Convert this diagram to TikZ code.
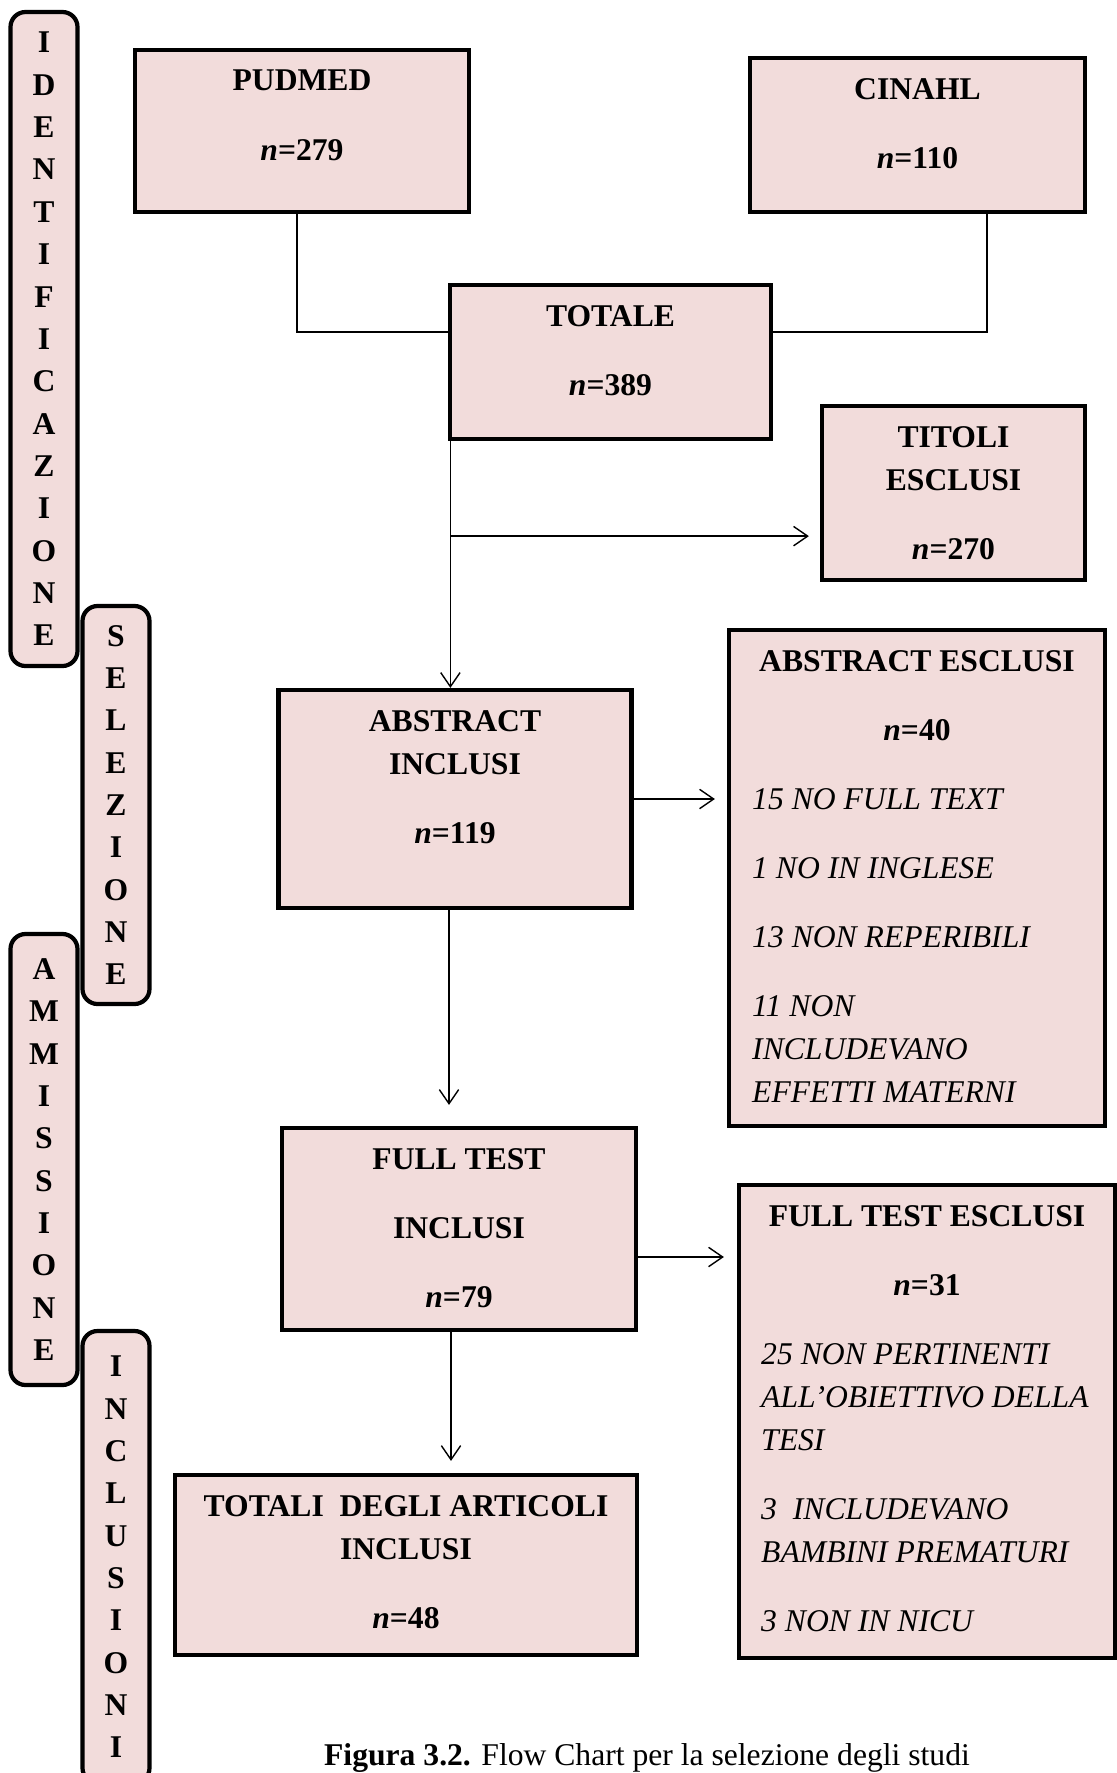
\documentclass[tikz,border=0pt]{standalone}
\usepackage{fontspec}
\setmainfont{Liberation Serif}
\usetikzlibrary{arrows.meta, positioning}
\definecolor{boxpink}{RGB}{242,220,219}

\begin{document}
\begin{tikzpicture}[
        box/.style={draw, rectangle, line width=2.4pt, fill=boxpink, inner sep=0pt},
        tab/.style={draw, rectangle, rounded corners=0.3cm, line width=2.4pt, fill=boxpink, align=center, inner sep=0pt, minimum width=1.34cm, font=\fontsize{18}{24.1}\selectfont\bfseries},
        boxtext/.style={align=center, inner sep=0pt, font=\fontsize{18}{24.5}\selectfont\bfseries},
        listtext/.style={align=left, inner sep=0pt, font=\fontsize{18}{24.5}\selectfont\itshape},
        link/.style={line width=0.8pt},
        arrow/.style={-{Straight Barb[length=8pt, width=11pt]}, line width=0.8pt}
    ]
    \useasboundingbox (0,0) rectangle (22.34,-35.46);

    % --- Phase tabs ---
    \node[tab, minimum height=13.08cm] (ident) at (0.88,-6.78) {I\\D\\E\\N\\T\\I\\F\\I\\C\\A\\Z\\I\\O\\N\\E};
    \node[tab, minimum height=7.96cm] (selez) at (2.32,-16.10) {S\\E\\L\\E\\Z\\I\\O\\N\\E};
    \node[tab, minimum height=9.02cm] (ammis) at (0.88,-23.19) {A\\M\\M\\I\\S\\S\\I\\O\\N\\E};
    \node[tab, minimum height=9.04cm] (incl) at (2.32,-31.14) {I\\N\\C\\L\\U\\S\\I\\O\\N\\I};

    % --- Databases ---
    \node[box, minimum width=6.68cm, minimum height=3.24cm] (pudmed) at (6.04,-2.62) {};
    \node[boxtext, below=0.44cm of pudmed.north] (pudmedtext) {PUDMED\\[14.8pt]\textit{n}=279};
    \node[box, minimum width=6.70cm, minimum height=3.08cm] (cinahl) at (18.35,-2.70) {};
    \node[boxtext, below=0.44cm of cinahl.north] (cinahltext) {CINAHL\\[14.8pt]\textit{n}=110};
    \node[box, minimum width=6.42cm, minimum height=3.08cm] (totale) at (12.21,-7.24) {};
    \node[boxtext, below=0.44cm of totale.north] (totaletext) {TOTALE\\[14.8pt]\textit{n}=389};
    \node[box, minimum width=5.26cm, minimum height=3.48cm] (titoli) at (19.07,-9.86) {};
    \node[boxtext, below=0.44cm of titoli.north] (titolitext) {TITOLI\\ESCLUSI\\[14.8pt]\textit{n}=270};

    % --- Screening ---
    \node[box, minimum width=7.06cm, minimum height=4.36cm] (absincl) at (9.10,-15.98) {};
    \node[boxtext, below=0.44cm of absincl.north] (absincltext) {ABSTRACT\\INCLUSI\\[14.8pt]\textit{n}=119};
    \node[box, minimum width=7.52cm, minimum height=9.92cm] (absescl) at (18.34,-17.56) {};
    \node[boxtext, below=0.44cm of absescl.north] (absescltext) {ABSTRACT ESCLUSI\\[14.8pt]\textit{n}=40};
    \node[listtext, anchor=north west] (absescllist) at ([xshift=0.5cm, yshift=-3.2cm]absescl.north west) {15 NO FULL TEXT\\[14.8pt]1 NO IN INGLESE\\[14.8pt]13 NON REPERIBILI\\[14.8pt]11 NON\\INCLUDEVANO\\EFFETTI MATERNI};

    % --- Eligibility ---
    \node[box, minimum width=7.08cm, minimum height=4.04cm] (fullincl) at (9.18,-24.58) {};
    \node[boxtext, below=0.44cm of fullincl.north] (fullincltext) {FULL TEST\\[14.8pt]INCLUSI\\[14.8pt]\textit{n}=79};
    \node[box, minimum width=7.52cm, minimum height=9.46cm] (fullescl) at (18.54,-28.43) {};
    \node[boxtext, below=0.44cm of fullescl.north] (fullescltext) {FULL TEST ESCLUSI\\[14.8pt]\textit{n}=31};
    \node[listtext, anchor=north west] (fullescllist) at ([xshift=0.48cm, yshift=-3.2cm]fullescl.north west) {25 NON PERTINENTI\\ALL’OBIETTIVO DELLA\\TESI\\[14.8pt]3~ INCLUDEVANO\\BAMBINI PREMATURI\\[14.8pt]3 NON IN NICU};

    % --- Included ---
    \node[box, minimum width=9.24cm, minimum height=3.60cm] (totali) at (8.12,-31.30) {};
    \node[boxtext, below=0.44cm of totali.north] (totalitext) {TOTALI~ DEGLI ARTICOLI\\INCLUSI\\[14.8pt]\textit{n}=48};

    \node[anchor=north, inner sep=0pt, font=\fontsize{18}{24.5}\selectfont] (caption) at (12.94,-34.86) {\textbf{Figura 3.2.} Flow Chart per la selezione degli studi};

    % --- Connectors ---
    \draw[link] ([xshift=-0.1cm]pudmed.south) |- ([yshift=0.6cm]totale.west);
    \draw[link] ([xshift=1.39cm]cinahl.south) |- ([yshift=0.6cm]totale.east);
    \coordinate (drop) at ([xshift=0.05cm]totale.south west);
    \coordinate (split) at ([yshift=-1.9cm]drop);
    \draw[arrow] (drop) -- (drop |- absincl.north);
    \draw[arrow, shorten >=0.22cm] (split) -- (split -| titoli.west);
    \draw[arrow, shorten >=0.24cm] (absincl.east) -- (absincl.east -| absescl.west);
    \draw[arrow, shorten >=0.42cm] ([xshift=-0.12cm]absincl.south) -- ([xshift=-0.12cm]absincl.south |- fullincl.north);
    \draw[arrow, shorten >=0.26cm] ([yshift=-0.56cm]fullincl.east) -- ([yshift=-0.56cm]fullincl.east -| fullescl.west);
    \draw[arrow, shorten >=0.24cm] ([xshift=-0.16cm]fullincl.south) -- ([xshift=-0.16cm]fullincl.south |- totali.north);

\end{tikzpicture}
\end{document}
